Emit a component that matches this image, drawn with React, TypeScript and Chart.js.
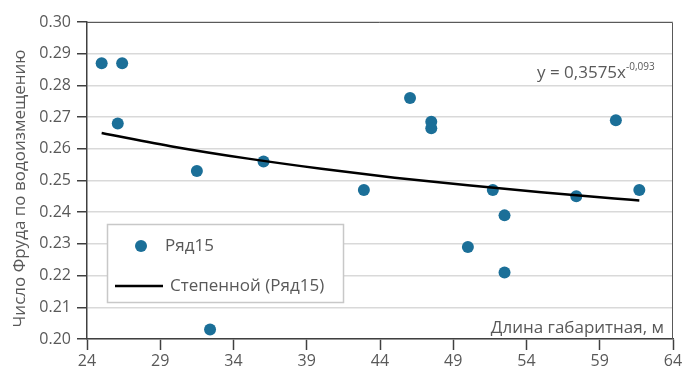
import React, { useEffect, useRef } from "react";
import { Chart, registerables } from "chart.js";

Chart.register(...registerables);

const lengthValues = [25.0, 26.4, 26.1, 31.5, 36.05, 42.9, 46.05, 47.5, 47.5, 51.7, 52.5, 50.0, 52.5, 57.4, 60.1, 61.7, 32.4];
const froudeValues = [0.287, 0.287, 0.268, 0.253, 0.256, 0.247, 0.276, 0.2685, 0.2665, 0.247, 0.239, 0.229, 0.221, 0.245, 0.269, 0.247, 0.203];

const trendX = [25, 30, 35, 40, 45, 50, 55, 60, 61.7];
const trendY = [0.265, 0.2606, 0.2569, 0.2537, 0.2509, 0.2485, 0.2463, 0.2443, 0.2437];

const xTicks = [24, 29, 34, 39, 44, 49, 54, 59, 64];
const yTicks = [0.2, 0.21, 0.22, 0.23, 0.24, 0.25, 0.26, 0.27, 0.28, 0.29, 0.3];

const seriesLabel = "Ряд15";
const trendLabel = "Степенной (Ряд15)";
const xTitle = "Длина габаритная, м";
const yTitle = "Число Фруда по водоизмещению";
const equationMain = "y = 0,3575x";
const equationExp = "-0,093";

const FONT = "'Open Sans', sans-serif";
const TEXT = "#595959";
const POINT = "#1b6f98";

const overlay = {
  id: "overlay",
  beforeDatasetsDraw(chart: any) {
    const { ctx, chartArea: a } = chart;
    ctx.save();
    ctx.strokeStyle = "#595959";
    ctx.lineWidth = 1;
    ctx.beginPath();
    ctx.moveTo(a.left, a.top + 0.5);
    ctx.lineTo(a.right - 0.5, a.top + 0.5);
    ctx.lineTo(a.right - 0.5, a.bottom);
    ctx.stroke();
    ctx.restore();
  },
  afterDatasetsDraw(chart: any) {
    const { ctx, chartArea: a } = chart;
    ctx.save();
    // y-axis title
    ctx.fillStyle = TEXT;
    ctx.font = `17px ${FONT}`;
    ctx.textAlign = "center";
    ctx.textBaseline = "middle";
    ctx.translate(20, (a.top + a.bottom) / 2 + 8);
    ctx.rotate(-Math.PI / 2);
    ctx.fillText(yTitle, 0, 0);
    ctx.setTransform(1, 0, 0, 1, 0, 0);

    // x-axis title inside plot
    ctx.font = `17px ${FONT}`;
    ctx.textAlign = "right";
    ctx.textBaseline = "middle";
    ctx.fillText(xTitle, a.right - 9, a.bottom - 11);

    // equation
    ctx.textAlign = "left";
    ctx.font = `17px ${FONT}`;
    const ex = a.right - 136;
    const ey = 73;
    ctx.fillText(equationMain, ex, ey);
    const w = ctx.measureText(equationMain).width;
    ctx.font = `10px ${FONT}`;
    ctx.fillText(equationExp, ex + w, ey - 6);

    // legend
    const lx = a.left + 20, ly = 224, lw = 236, lh = 78;
    ctx.fillStyle = "#ffffff";
    ctx.fillRect(lx, ly, lw, lh);
    ctx.strokeStyle = "#c8c8c8";
    ctx.lineWidth = 1.5;
    ctx.strokeRect(lx + 0.5, ly + 0.5, lw, lh);

    ctx.fillStyle = POINT;
    ctx.beginPath();
    ctx.arc(lx + 34, ly + 22, 6, 0, Math.PI * 2);
    ctx.fill();

    ctx.strokeStyle = "#000000";
    ctx.lineWidth = 2.5;
    ctx.beginPath();
    ctx.moveTo(lx + 8, ly + 62);
    ctx.lineTo(lx + 56, ly + 62);
    ctx.stroke();

    ctx.fillStyle = TEXT;
    ctx.font = `17px ${FONT}`;
    ctx.textAlign = "left";
    ctx.textBaseline = "middle";
    ctx.fillText(seriesLabel, lx + 58, ly + 22);
    ctx.fillText(trendLabel, lx + 63, ly + 62);
    ctx.restore();
  },
};

export default function App() {
  const ref = useRef<HTMLCanvasElement | null>(null);
  useEffect(() => {
    document.body.style.margin = "0";
    if (!ref.current) return;
    const chart = new Chart(ref.current, {
      type: "scatter",
      data: {
        datasets: [
          {
            type: "line",
            label: trendLabel,
            data: trendX.map((x, i) => ({ x, y: trendY[i] })),
            borderColor: "#000000",
            borderWidth: 2.5,
            pointRadius: 0,
            tension: 0.4,
            cubicInterpolationMode: "monotone",
            fill: false,
            order: 0,
          } as any,
          {
            label: seriesLabel,
            data: lengthValues.map((x, i) => ({ x, y: froudeValues[i] })),
            backgroundColor: POINT,
            borderColor: POINT,
            pointRadius: 6,
            pointHoverRadius: 6,
            borderWidth: 0,
            order: 1,
          },
        ],
      },
      options: {
        animation: false,
        responsive: false,
        events: [],
        layout: { padding: { left: 0, right: 21, top: 22, bottom: 0 } },
        plugins: {
          legend: { display: false },
          tooltip: { enabled: false },
        },
        scales: {
          x: {
            type: "linear",
            min: 24,
            max: 64,
            afterBuildTicks: (s: any) => {
              s.ticks = xTicks.map((v) => ({ value: v }));
            },
            afterFit: (s: any) => {
              s.height = 31;
            },
            ticks: {
              color: TEXT,
              font: { family: FONT, size: 16 },
              padding: 2,
              maxRotation: 0,
            },
            grid: {
              drawOnChartArea: false,
              drawTicks: true,
              tickLength: 11,
              tickColor: "#404040",
              tickWidth: 1.5,
            },
            border: { color: "#404040", width: 1.5 },
          },
          y: {
            type: "linear",
            min: 0.2,
            max: 0.3,
            afterBuildTicks: (s: any) => {
              s.ticks = yTicks.map((v) => ({ value: v }));
            },
            afterFit: (s: any) => {
              s.width = 87;
            },
            ticks: {
              color: TEXT,
              font: { family: FONT, size: 16 },
              padding: 6,
              callback: (v: any) => Number(v).toFixed(2),
            },
            grid: {
              color: "#d9d9d9",
              lineWidth: 1.5,
              drawTicks: true,
              tickLength: 10,
              tickColor: "#404040",
              tickWidth: 1.5,
            },
            border: { color: "#404040", width: 1.5 },
          },
        },
      },
      plugins: [overlay],
    });
    return () => chart.destroy();
  }, []);
  return (
    <div style={{ position: "absolute", left: 0, top: 0, width: 694, height: 370 }}>
      <canvas ref={ref} width={694} height={370} style={{ width: 694, height: 370, display: "block" }} />
    </div>
  );
}
